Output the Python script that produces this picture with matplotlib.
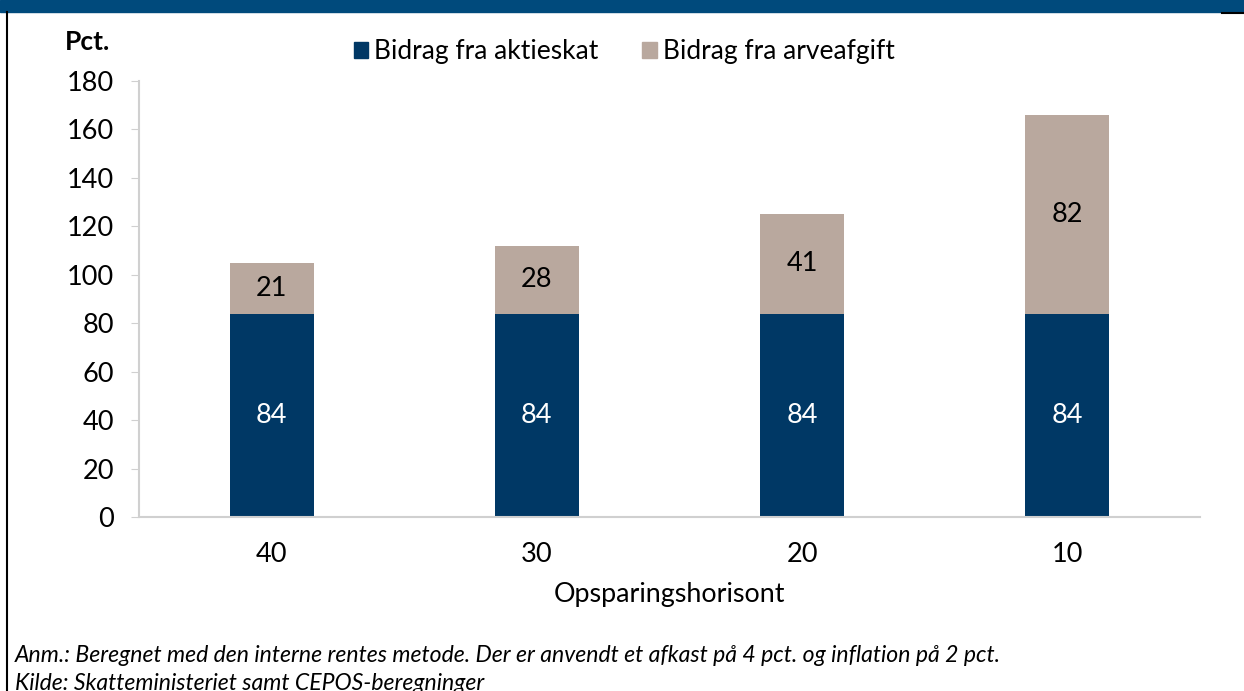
import numpy as np
import matplotlib.pyplot as plt
from matplotlib.patches import Rectangle
from matplotlib.lines import Line2D

plt.rcParams['font.family'] = ['Lato', 'DejaVu Sans']

# data
horisont = ['40', '30', '20', '10']
aktieskat = [84, 84, 84, 84]
arveafgift = [21, 28, 41, 82]

navy = '#003865'
tan = '#B9A89E'
header = '#004A7C'

fig = plt.figure(figsize=(12.44, 6.91), dpi=100)
ax = fig.add_axes([139/1244, 1-517/691, (1200-139)/1244, (517-81)/691])

x = np.arange(len(horisont))
w = 0.316
ax.bar(x, aktieskat, w, color=navy, label='Bidrag fra aktieskat')
ax.bar(x, arveafgift, w, bottom=aktieskat, color=tan, label='Bidrag fra arveafgift')

for i in range(len(x)):
    ax.text(x[i], aktieskat[i] / 2, str(aktieskat[i]), ha='center', va='center',
            color='white', fontsize=19.5)
    ax.text(x[i], aktieskat[i] + arveafgift[i] / 2, str(arveafgift[i]), ha='center',
            va='center', color='black', fontsize=19.5)

ax.set_xlim(-0.5, 3.5)
ax.set_ylim(0, 180)
ax.set_yticks(range(0, 181, 20))
ax.set_xticks(x)
ax.set_xticklabels(horisont)
ax.tick_params(axis='y', labelsize=19.5, length=6, color='#d0d0d0', pad=12)
ax.tick_params(axis='x', labelsize=19.5, length=0, pad=18)
for s in ['top', 'right']:
    ax.spines[s].set_visible(False)
for s in ['left', 'bottom']:
    ax.spines[s].set_color('#d0d0d0')
    ax.spines[s].set_linewidth(1.5)
ax.set_xlabel('Opsparingshorisont', fontsize=19.4, labelpad=11)

handles = [Rectangle((0, 0), 1, 1, color=navy), Rectangle((0, 0), 1, 1, color=tan)]
fig.legend(handles, ['Bidrag fra aktieskat', 'Bidrag fra arveafgift'],
           loc='center', bbox_to_anchor=(624/1244, 1-52/691), ncol=2, frameon=False,
           fontsize=19, handlelength=0.55, handleheight=0.55, handletextpad=0.23,
           columnspacing=1.65)

fig.text(65/1244, 1-42/691, 'Pct.', fontsize=19, fontweight='bold', va='center')

# header bar and frame
fig.patches.append(Rectangle((0, 1-12/691), 1, 12/691, transform=fig.transFigure,
                             color=header, zorder=0))
fig.add_artist(Line2D([7/1244, 7/1244], [0, 1-12/691], color='black', lw=1.5))
fig.add_artist(Line2D([1222/1244, 1], [1-13/691, 1-13/691], color='black', lw=1.5))

fig.text(15/1244, 1-655/691,
         'Anm.: Beregnet med den interne rentes metode. Der er anvendt et afkast p\u00e5 4 pct. og inflation p\u00e5 2 pct.',
         fontsize=16.6, fontstyle='italic', va='center')
fig.text(15/1244, 1-683/691, 'Kilde: Skatteministeriet samt CEPOS-beregninger',
         fontsize=16.6, fontstyle='italic', va='center')

fig.savefig('out.png', dpi=100)
